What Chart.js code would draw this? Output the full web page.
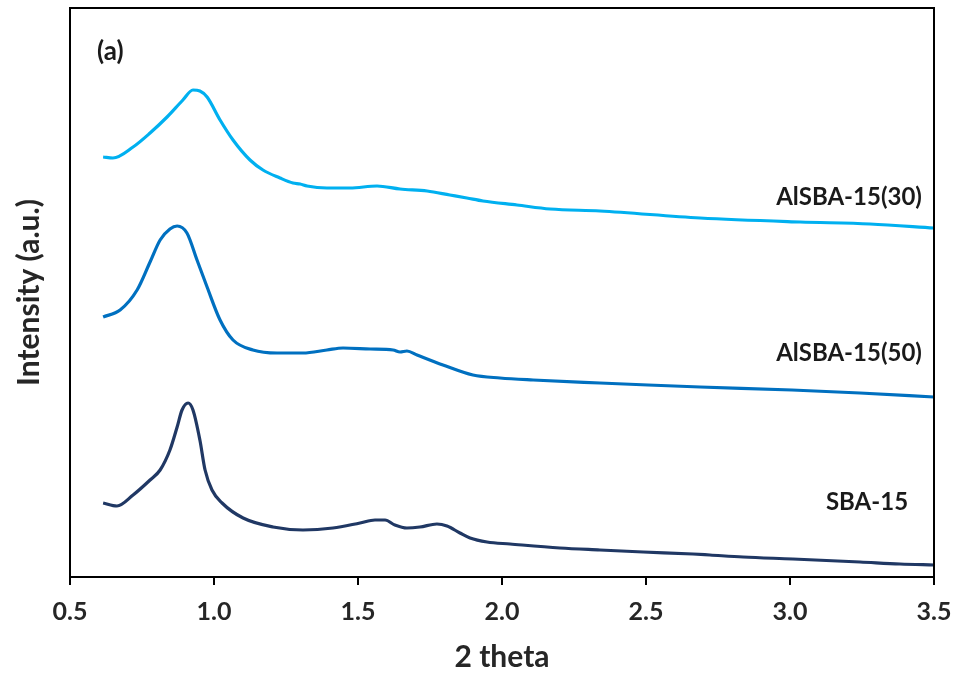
<!DOCTYPE html>
<html>
<head>
<meta charset="utf-8">
<script src="https://cdn.jsdelivr.net/npm/chart.js@4.4.1/dist/chart.umd.min.js"></script>
<style>
  html, body { margin: 0; padding: 0; background: #fff; }
  #wrap { width: 961px; height: 675px; }
</style>
</head>
<body>
<div id="wrap"><canvas id="xrd"></canvas></div>
<script>
(function () {
  'use strict';

  // 2 theta values and intensities (a.u.)
  var sbaX = [0.615, 0.663, 0.719, 0.778, 0.813, 0.847, 0.872, 0.889, 0.910, 0.927, 0.951, 0.969, 0.993, 1.028, 1.101, 1.205, 1.309, 1.413, 1.507, 1.559, 1.594, 1.628, 1.670, 1.715, 1.774, 1.809, 1.854, 1.889, 1.948, 2.028, 2.201, 2.340, 2.490, 2.663, 2.722, 2.837, 3.010, 3.243, 3.382, 3.500];
  var sbaY = [74, 71, 82, 97, 107, 127, 150, 167, 174, 167, 137, 107, 87, 74, 59, 50, 47, 49, 54, 57, 57, 52, 49, 50, 53, 51, 44, 39, 35, 33, 29, 27, 25, 23, 22, 20, 18, 15, 13, 12];

  var al50X = [0.615, 0.674, 0.733, 0.778, 0.813, 0.847, 0.872, 0.906, 0.941, 0.976, 1.021, 1.066, 1.135, 1.219, 1.309, 1.392, 1.448, 1.542, 1.622, 1.646, 1.670, 1.705, 1.795, 1.899, 1.993, 2.108, 2.340, 2.507, 2.688, 3.007, 3.243, 3.500];
  var al50Y = [260, 267, 287, 315, 337, 348, 351, 344, 317, 290, 257, 237, 227, 224, 224, 227, 229, 228, 227, 225, 226, 222, 212, 202, 199, 197, 194, 192, 190, 187, 184, 180];

  var al30X = [0.615, 0.649, 0.719, 0.778, 0.837, 0.892, 0.927, 0.951, 0.976, 1.021, 1.066, 1.125, 1.170, 1.229, 1.274, 1.299, 1.323, 1.392, 1.472, 1.566, 1.646, 1.740, 1.819, 1.878, 1.934, 2.052, 2.167, 2.340, 2.688, 3.035, 3.278, 3.500];
  var al30Y = [420, 419, 430, 444, 460, 477, 487, 486, 480, 457, 437, 417, 407, 399, 394, 393, 391, 389, 389, 391, 388, 386, 382, 379, 376, 372, 368, 366, 359, 355, 353, 349];

  var seriesNames = ['AlSBA-15(30)', 'AlSBA-15(50)', 'SBA-15'];
  var seriesColors = ['#00b0f0', '#0070c0', '#203864'];
  var xTicks = [0.5, 1.0, 1.5, 2.0, 2.5, 3.0, 3.5];

  // text placed inside the plot (2 theta, intensity)
  var noteText = ['(a)', 'AlSBA-15(30)', 'AlSBA-15(50)', 'SBA-15'];
  var noteX = [0.594, 3.458, 3.458, 3.41];
  var noteY = [525, 380, 224, 75];
  var noteAlign = ['left', 'right', 'right', 'right'];
  var noteSize = [26, 24, 24, 24];

  function pts(xs, ys) {
    return xs.map(function (x, i) { return { x: x, y: ys[i] }; });
  }

  var FONT = 'Lato, "Open Sans", sans-serif';

  var frame = {
    id: 'frame',
    afterDatasetsDraw: function (chart) {
      var a = chart.chartArea;
      var ctx = chart.ctx;
      ctx.save();
      ctx.strokeStyle = '#000';
      ctx.lineWidth = 2;
      ctx.strokeRect(a.left, a.top, a.right - a.left, a.bottom - a.top);
      ctx.restore();
    },
    afterDraw: function (chart) {
      var ctx = chart.ctx;
      var sx = chart.scales.x, sy = chart.scales.y;
      ctx.save();
      ctx.fillStyle = '#1a1a1a';
      ctx.textBaseline = 'middle';
      noteText.forEach(function (t, i) {
        ctx.font = 'bold ' + noteSize[i] + 'px ' + FONT;
        ctx.textAlign = noteAlign[i];
        ctx.fillText(t, sx.getPixelForValue(noteX[i]), sy.getPixelForValue(noteY[i]));
      });
      ctx.restore();
    }
  };

  var datasets = [pts(al30X, al30Y), pts(al50X, al50Y), pts(sbaX, sbaY)].map(function (d, i) {
    return {
      label: seriesNames[i],
      data: d,
      borderColor: seriesColors[i],
      borderWidth: 3.2,
      pointRadius: 0,
      fill: false,
      cubicInterpolationMode: 'monotone'
    };
  });

  new Chart(document.getElementById('xrd').getContext('2d'), {
    type: 'line',
    data: { datasets: datasets },
    plugins: [frame],
    options: {
      responsive: true,
      maintainAspectRatio: false,
      animation: false,
      layout: { padding: { top: 8, right: 27, left: 0, bottom: 0 } },
      plugins: { legend: { display: false }, tooltip: { enabled: false } },
      scales: {
        x: {
          type: 'linear',
          min: 0.5,
          max: 3.5,
          afterBuildTicks: function (scale) {
            scale.ticks = xTicks.map(function (v) { return { value: v }; });
          },
          afterFit: function (scale) {
            scale.height = 98;
            scale.paddingLeft = 0;
            scale.paddingRight = 0;
          },
          grid: { drawOnChartArea: false, color: '#000', lineWidth: 2, tickLength: 8 },
          border: { color: '#000', width: 2 },
          ticks: {
            color: '#262626',
            padding: 12,
            font: { family: FONT, size: 25, weight: 'bold' },
            callback: function (v) { return Number(v).toFixed(1); }
          },
          title: {
            display: true,
            text: '2 theta',
            color: '#262626',
            font: { family: FONT, size: 30, weight: 'bold' },
            padding: { top: 0, bottom: 0 }
          }
        },
        y: {
          min: 0,
          max: 569,
          afterFit: function (scale) { scale.width = 70; },
          grid: { display: false },
          border: { color: '#000', width: 2 },
          ticks: { display: false },
          title: {
            display: true,
            text: 'Intensity (a.u.)',
            color: '#262626',
            font: { family: FONT, size: 30, weight: 'bold' },
            padding: { top: 11, bottom: 0 }
          }
        }
      }
    }
  });
})();
</script>
</body>
</html>
